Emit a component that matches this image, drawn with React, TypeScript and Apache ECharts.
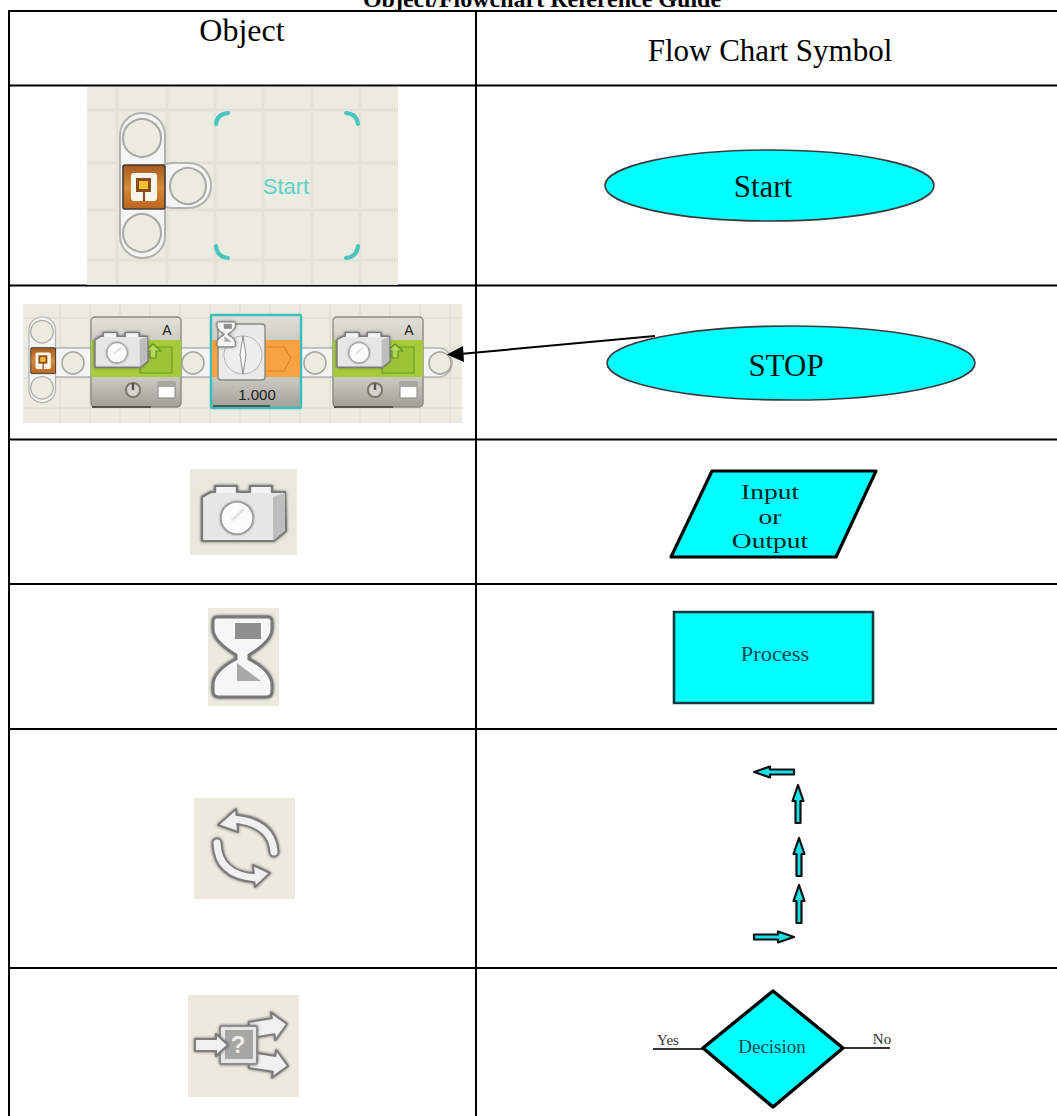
import React, { useEffect, useRef } from "react";
import * as echarts from "echarts";

const titleText = ["Object/Flowchart Reference Guide"];
const columnHeaders = ["Object", "Flow Chart Symbol"];
const startSymbolLabel = ["Start"];
const stopSymbolLabel = ["STOP"];
const ioSymbolLabels = ["Input", "or", "Output"];
const processSymbolLabel = ["Process"];
const decisionSymbolLabels = ["Yes", "Decision", "No"];
const blockPortLabel = ["A"];
const waitValueLabel = ["1.000"];

const rowLines = [11, 85.5, 285.5, 439.5, 584, 729, 968];
const columnLines = [9, 476];

const CYAN = "#00ffff";
const SERIF = '"Liberation Serif"';
const SANS = '"Liberation Sans"';
const BG = "#ecebe1";
const GRID = "#e3e2d8";

const R = (x, y, width, height, fill, stroke?, lineWidth = 1, r = 0) => ({
  type: "rect", silent: true,
  shape: { x, y, width, height, r },
  style: { fill, stroke: stroke || "none", lineWidth },
});
const C = (cx, cy, r, fill, stroke?, lineWidth = 1) => ({
  type: "circle", silent: true, shape: { cx, cy, r },
  style: { fill, stroke: stroke || "none", lineWidth },
});
const P = (points, fill, stroke?, lineWidth = 1) => ({
  type: "polygon", silent: true, shape: { points },
  style: { fill, stroke: stroke || "none", lineWidth, lineJoin: "round" },
});
const L = (x1, y1, x2, y2, stroke, lineWidth = 1) => ({
  type: "line", silent: true, shape: { x1, y1, x2, y2 },
  style: { stroke, lineWidth },
});
const T = (text, x, y, fontSize, fill, family = SERIF, weight = "normal", scaleX = 1) => ({
  type: "text", silent: true, x, y, scaleX,
  style: { text, x: 0, y: 0, fontSize, fontFamily: family, fontWeight: weight, fill, textAlign: "center", textVerticalAlign: "middle" },
});
const Arc = (x1, y1, cpx1, cpy1, x2, y2, stroke, lineWidth) => ({
  type: "bezierCurve", silent: true,
  shape: { x1, y1, x2, y2, cpx1, cpy1 },
  style: { stroke, lineWidth, fill: "none", lineCap: "round" },
});
const G = (x, y, scale, children) => ({ type: "group", silent: true, x, y, scaleX: scale, scaleY: scale, children });
const soft = (el, blur = 3) => ({ ...el, style: { ...el.style, shadowBlur: blur, shadowColor: "#666" } });

// polygon of an arrow running from tail to tip
const arrowPoints = (x0, y0, x1, y1, shaft, head, headLen) => {
  const d = Math.hypot(x1 - x0, y1 - y0);
  const ux = (x1 - x0) / d, uy = (y1 - y0) / d;
  const nx = -uy, ny = ux;
  const bx = x1 - ux * headLen, by = y1 - uy * headLen;
  return [
    [x0 + nx * shaft, y0 + ny * shaft],
    [bx + nx * shaft, by + ny * shaft],
    [bx + nx * head, by + ny * head],
    [x1, y1],
    [bx - nx * head, by - ny * head],
    [bx - nx * shaft, by - ny * shaft],
    [x0 - nx * shaft, y0 - ny * shaft],
  ];
};

const gradient = (stops) =>
  new echarts.graphic.LinearGradient(0, 0, 0, 1, stops.map(([offset, color]) => ({ offset, color })));

const backdrop = (x, y, w, h, xs, ys, lw) => [
  R(x, y, w, h, BG),
  ...xs.map((v) => L(v, y, v, y + h, GRID, lw)),
  ...ys.map((v) => L(x, v, x + w, v, GRID, lw)),
];

// the brick icon, in a local frame 83 x 56
const brick = (x, y, s) =>
  G(x, y, s, [
    soft(P([[0, 12], [9, 7], [13, 7], [13, 1], [35, 1], [35, 7], [48, 7], [48, 1], [70, 1], [70, 7], [83, 7], [84, 46], [72, 56], [0, 56]], "#e6e6e6", "#7a7a7a", 2.2)),
    P([[71, 12], [83, 8], [83, 45], [71, 55]], "#bdbdbd"),
    R(15, 2, 18, 6, "#f3f3f3"),
    R(50, 2, 18, 6, "#f3f3f3"),
    soft(C(35, 33, 16, "#fbfbfb", "#9a9a9a", 1.4), 2),
    L(30, 35, 42, 24, "#e2e2e2", 3),
  ]);

// the start beam, in a local frame 45 x 145
const beam = (x, y, s, withRightPill) =>
  G(x, y, s, [
    R(0, 0, 45, 145, "#f4f4f2", "#b3b3ae", 2, 22),
    ...(withRightPill ? [R(30, 50, 61, 45, "#f4f4f2", "#b3b3ae", 2, 22), C(68, 73, 18, BG, "#a8a8a2", 2)] : []),
    C(22, 25, 19, BG, "#a8a8a2", 2),
    C(22, 120, 19, BG, "#a8a8a2", 2),
    R(3, 52, 42, 44, gradient([[0, "#a6591f"], [0.5, "#d68a38"], [1, "#b9651f"]]), "#3d3d3d", 1.6, 2),
    R(11, 60, 26, 28, "#fbf6ea", "none", 1, 3),
    R(16, 65, 15, 14, "#8a4a1c", "none"),
    R(19, 68, 9, 8, "#f2c02f"),
    L(24, 78, 24, 88, "#8a4a1c", 2),
  ]);

// the hourglass, in a local frame 59 x 80
const hourglass = (x, y, s) =>
  G(x, y, s, [
    soft({ type: "hourglassShape", silent: true, style: { fill: "#f6f6f6", stroke: "#787878", lineWidth: 3 } }),
    R(22, 6, 26, 16, "#8f8f8f"),
    P([[24, 46], [24, 64], [48, 64]], "#a9a9a9"),
  ]);

const motorBlock = (x) => [
  R(x, 317, 90, 90, gradient([[0, "#e2e1d9"], [0.25, "#cfcec6"], [0.7, "#c8c7bf"], [1, "#a09f98"]]), "#8a8a84", 1.4, 4),
  R(x, 340, 90, 37, "#a5cb3b"),
  L(x + 1, 407, x + 60, 407, "#555550", 2),
  R(x + 49, 347, 32, 26, "#9cc436", "#6f9a1f", 1.2),
  P(arrowPoints(x + 62, 358, x + 62, 344, 3, 8, 7), "#b5d75a", "#5f8f1a", 1.2),
  brick(x + 4, 332, 0.63),
  T(blockPortLabel[0], x + 76, 330, 14, "#222", SANS),
  C(x + 42, 390, 7, "#d6d5cd", "#77776f", 2),
  L(x + 42, 383, x + 42, 390, "#555", 2.5),
  R(x + 67, 382, 17, 16, "#fdfdfb", "#8a8a84", 1),
  R(x + 67, 382, 17, 5, "#a9a9a3"),
];

function buildElements() {
  const els: any[] = [];

  // table rules
  rowLines.forEach((y) => els.push(L(8, y, 1057, y, "#000", 2)));
  columnLines.forEach((x) => els.push(L(x, 11, x, 1116, "#000", 2)));

  // title and headers
  els.push(T(titleText[0], 542, -1, 24, "#000", SERIF, "bold"));
  els.push(T(columnHeaders[0], 242, 30, 32, "#000"));
  els.push(T(columnHeaders[1], 770, 50, 31, "#000"));

  // row 1 object
  els.push(...backdrop(87, 87, 311, 198, [117, 167, 215, 263, 312, 360], [110, 163, 210, 260], 3));
  els.push(beam(120, 113, 1, true));
  els.push(T(startSymbolLabel[0], 286, 186, 22, "#5fd2c8", SANS));
  [
    [216, 124, 217, 114, 228, 113],
    [358, 124, 357, 114, 346, 113],
    [216, 246, 217, 257, 228, 258],
    [358, 246, 357, 257, 346, 258],
  ].forEach(([a, b, c, d, e, f]) => els.push(Arc(a, b, c, d, e, f, "#46c6bd", 4)));

  // row 2 object
  els.push(...backdrop(23, 304, 439, 119, [60, 90, 120, 150, 180, 210, 240, 270, 300, 330, 360, 390, 420, 450], [318, 348, 378, 408], 2));
  els.push(R(45, 348, 407, 29, "#f4f4f2", "#b3b3ae", 1.5, 14));
  els.push(beam(29, 317, 0.59, false));
  [73, 193, 315, 440].forEach((cx) => els.push(C(cx, 363, 11, BG, "#a8a8a2", 1.6)));
  els.push(...motorBlock(91));
  els.push(R(211, 315, 90, 93, gradient([[0, "#e2e1d9"], [0.25, "#cfcec6"], [0.7, "#c8c7bf"], [1, "#a09f98"]]), "#37bfc0", 2.4, 1));
  els.push(R(212, 340, 88, 37, "#f9a241"));
  els.push(P([[262, 347], [284, 347], [291, 358], [284, 371], [262, 371]], "#f9a241", "#d8842a", 1.2));
  els.push(R(218, 324, 47, 56, "#e9e9e7", "#8a8a84", 1.4, 3));
  els.push(C(243, 355, 19, "#eeeeec", "#b4b4ae", 1));
  els.push(P([[243, 336], [246, 355], [243, 374], [240, 355]], "#fafafa", "#8e8e88", 1));
  els.push(hourglass(217, 322, 0.31));
  els.push(L(213, 406, 270, 406, "#555550", 2));
  els.push(T(waitValueLabel[0], 257, 394, 15, "#222", SANS));
  els.push(...motorBlock(333));

  // row 3 object
  els.push(R(190, 469, 107, 86, "#e9e8dd"));
  els.push(brick(202, 485, 1));

  // row 4 object
  els.push(R(208, 608, 71, 98, "#ebeadf"));
  els.push(hourglass(213, 617, 1));

  // row 5 object
  els.push(R(194, 798, 101, 101, "#ece9df"));
  els.push(soft(Arc(274, 852, 272, 822, 234, 819, "#7d7d7a", 11)));
  els.push(soft(Arc(217, 843, 218, 876, 256, 878, "#7d7d7a", 11)));
  els.push(soft(P([[218, 825], [236, 809], [238, 832]], "#f0f0ef", "#7d7d7a", 2)));
  els.push(soft(P([[270, 873], [253, 865], [255, 887]], "#f0f0ef", "#7d7d7a", 2)));
  els.push(Arc(274, 852, 272, 822, 232, 819, "#f0f0ef", 7));
  els.push(Arc(217, 843, 218, 876, 258, 878, "#f0f0ef", 7));

  // row 6 object
  els.push(R(188, 995, 111, 102, "#ece9df"));
  els.push(soft(P(arrowPoints(250, 1030, 287, 1024, 8, 14, 14), "#f0f0ef", "#7d7d7a", 2)));
  els.push(soft(P(arrowPoints(250, 1060, 288, 1066, 8, 14, 14), "#f0f0ef", "#7d7d7a", 2)));
  els.push(soft(R(220, 1026, 37, 38, "#e6e6e4", "#8d8d8a", 2, 2)));
  els.push(R(225, 1030, 28, 29, "#a6a6a3"));
  els.push(soft(P(arrowPoints(195, 1045, 228, 1045, 6, 11, 12), "#f0f0ef", "#7d7d7a", 2)));
  els.push(T("?", 238, 1044, 24, "#ececea", SANS, "bold"));

  // row 1 symbol
  els.push({ type: "ellipse", silent: true, shape: { cx: 769.5, cy: 185.5, rx: 164.5, ry: 35.5 }, style: { fill: CYAN, stroke: "#3a3a3a", lineWidth: 1.6 } });
  els.push(T(startSymbolLabel[0], 763, 186, 31, "#001414"));

  // row 2 symbol
  els.push({ type: "ellipse", silent: true, shape: { cx: 791, cy: 363, rx: 184, ry: 37 }, style: { fill: CYAN, stroke: "#3a3a3a", lineWidth: 1.6 } });
  els.push(T(stopSymbolLabel[0], 786, 365, 31, "#001414"));
  els.push(L(655, 336, 460, 354, "#000", 2));
  els.push(P([[447, 354.5], [463, 346], [464, 362]], "#000"));

  // row 3 symbol
  els.push(P([[712, 471], [876, 471], [836, 557], [671, 557]], CYAN, "#000", 3.2));
  els.push(T(ioSymbolLabels[0], 770, 491, 22, "#002222", SERIF, "normal", 1.25));
  els.push(T(ioSymbolLabels[1], 770, 516, 22, "#002222", SERIF, "normal", 1.25));
  els.push(T(ioSymbolLabels[2], 770, 540, 22, "#002222", SERIF, "normal", 1.25));

  // row 4 symbol
  els.push(R(674, 612, 199, 91, CYAN, "#0e3a3c", 2.6));
  els.push(T(processSymbolLabel[0], 775, 654, 20, "#064a50", SERIF, "normal", 1.12));

  // row 5 symbol
  const cyanArrow = (a, b, c, d) => P(arrowPoints(a, b, c, d, 2.5, 5.5, 16), "#19e0e4", "#111", 2.2);
  els.push(cyanArrow(794, 772, 754, 772));
  els.push(cyanArrow(798, 823, 798, 785));
  els.push(cyanArrow(799, 876, 799, 838));
  els.push(cyanArrow(799, 923, 799, 885));
  els.push(cyanArrow(754, 937, 794, 937));

  // row 6 symbol
  els.push(L(653, 1049, 703, 1049, "#333", 2));
  els.push(L(843, 1048, 890, 1048, "#333", 2));
  els.push(P([[773, 991], [843, 1048], [773, 1107], [703, 1048]], CYAN, "#000", 3.4));
  els.push(T(decisionSymbolLabels[0], 668, 1040, 15, "#333"));
  els.push(T(decisionSymbolLabels[1], 772, 1046, 19, "#064a50"));
  els.push(T(decisionSymbolLabels[2], 882, 1039, 15, "#333"));

  return els;
}

export default function App() {
  const ref = useRef<HTMLDivElement>(null);
  useEffect(() => {
    document.body.style.margin = "0";
    document.body.style.background = "#fff";
    echarts.graphic.registerShape(
      "hourglassShape",
      echarts.graphic.extendPath(
        "M4 0 L55 0 Q59 0 59 5 L59 12 Q59 24 36 38 L36 42 Q59 54 59 68 L59 74 Q59 80 53 80 L6 80 Q0 80 0 74 L0 68 Q0 54 23 42 L23 38 Q0 24 0 12 L0 5 Q0 0 4 0 Z",
        {}
      )
    );
    const chart = echarts.init(ref.current, undefined, { renderer: "svg" });
    chart.setOption({
      animation: false,
      backgroundColor: "#fff",
      graphic: { elements: buildElements() },
    });
    return () => chart.dispose();
  }, []);
  return <div ref={ref} style={{ width: 1057, height: 1116, overflow: "hidden" }} />;
}
